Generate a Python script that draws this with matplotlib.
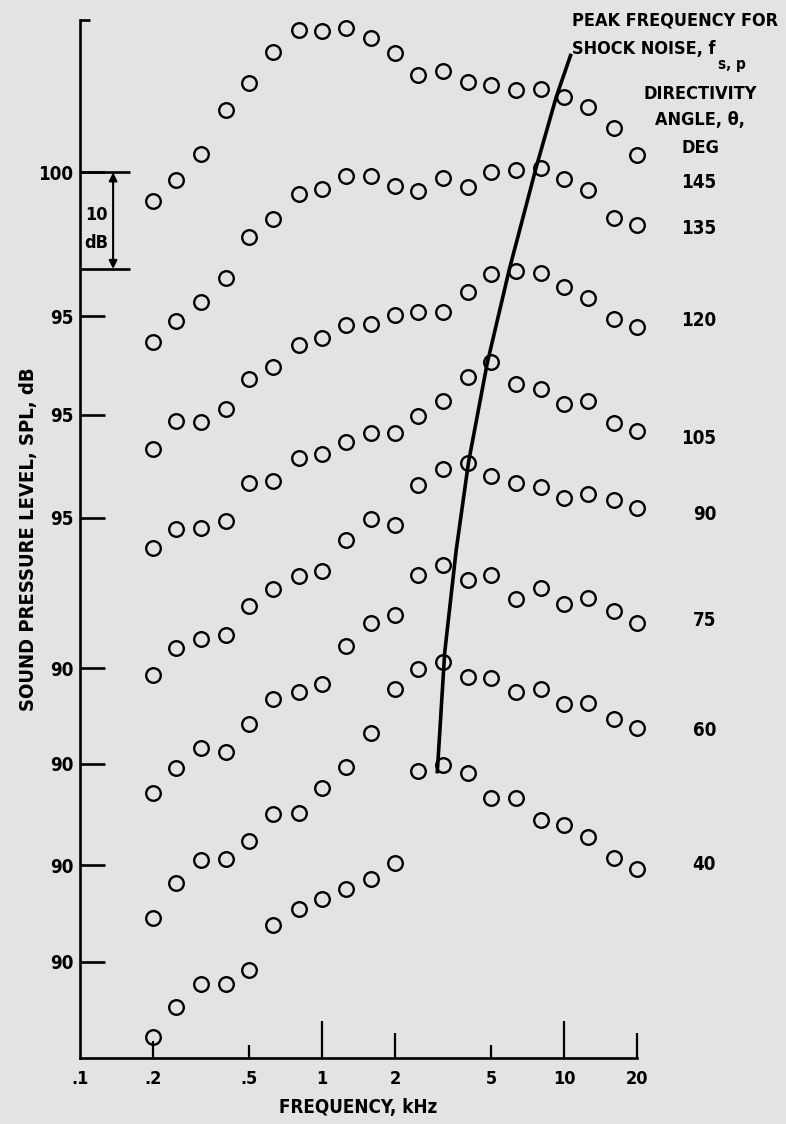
import numpy as np
import matplotlib.pyplot as plt
from matplotlib import font_manager as fm

# one-third octave band centre frequencies, kHz
freq = [0.2, 0.25, 0.315, 0.4, 0.5, 0.63, 0.8, 1.0, 1.25, 1.6, 2.0,
        2.5, 3.15, 4.0, 5.0, 6.3, 8.0, 10.0, 12.5, 16.0, 20.0]

angles = [145, 135, 120, 105, 90, 75, 60, 40]

# SPL, dB, read against each curve's own reference tick
spl_145 = [97.0, 99.2, 101.9, 106.5, 109.3, 112.5, 114.8, 114.7, 115.0, 113.9, 112.4,
           110.1, 110.5, 109.4, 109.1, 108.5, 108.6, 107.8, 106.8, 104.6, 101.8]
spl_135 = [92.3, 94.5, 96.5, 99.0, 103.2, 105.1, 107.7, 108.2, 109.5, 109.5, 108.5,
           108.0, 109.3, 108.4, 109.9, 110.2, 110.4, 109.2, 108.1, 105.2, 104.4]
spl_120 = [91.4, 94.3, 94.2, 95.6, 98.7, 99.9, 102.2, 102.9, 104.3, 104.4, 105.3,
           105.6, 105.6, 107.7, 109.6, 109.9, 109.7, 108.2, 107.1, 104.9, 104.1]
spl_105 = [91.9, 93.8, 93.9, 94.7, 98.6, 98.8, 101.2, 101.6, 102.9, 103.8, 103.8,
           105.5, 107.1, 109.6, 111.1, 108.9, 108.3, 106.8, 107.1, 104.8, 104.0]
spl_90 = [89.3, 92.1, 93.0, 93.5, 96.5, 98.2, 99.6, 100.1, 103.3, 105.5, 104.8,
          109.0, 110.7, 111.3, 109.9, 109.2, 108.8, 107.7, 108.1, 107.4, 106.6]
spl_75 = [87.0, 89.6, 91.6, 91.2, 94.1, 96.7, 97.4, 98.3, 102.2, 104.6, 105.4,
          109.6, 110.6, 109.0, 109.6, 107.1, 108.2, 106.6, 107.2, 105.8, 104.6]
spl_60 = [84.5, 88.1, 90.5, 90.6, 92.5, 95.3, 95.4, 98.0, 100.2, 103.7, 108.3,
          110.3, 111.0, 109.5, 109.4, 107.9, 108.3, 106.7, 106.8, 105.1, 104.2]
spl_40 = [82.2, 85.3, 87.7, 87.7, 89.1, 93.8, 95.4, 96.5, 97.5, 98.6, 100.2,
          109.7, 110.4, 109.5, 107.0, 107.0, 104.7, 104.2, 102.9, 100.7, 99.6]
curves = [spl_145, spl_135, spl_120, spl_105, spl_90, spl_75, spl_60, spl_40]

# reference tick value of each curve and how far it is moved down the page, dB
ref_db = [100, 95, 95, 95, 90, 90, 90, 90]
shift = [-8.2, -18.1, -28.3, -39.0, -49.6, -59.5, -70.0, -80.0]

# faired line of shock noise peak frequency (kHz, page level)
peak_f = [10.69, 9.27, 7.66, 5.93, 4.81, 4.03, 3.58, 3.21, 2.99]
peak_level = [104.1, 99.6, 92.3, 81.7, 72.0, 61.8, 52.6, 42.0, 29.5]

xticks = [0.1, 0.2, 0.5, 1, 2, 5, 10, 20]
xlabels = ['.1', '.2', '.5', '1', '2', '5', '10', '20']
xtick_len = [0, 12, 9.5, 26.5, 18, 9.5, 27, 18]

# narrow bold lettering if we have it
names = {f.name for f in fm.fontManager.ttflist}
FONT = 'Liberation Sans Narrow' if 'Liberation Sans Narrow' in names else 'DejaVu Sans'
plt.rcParams['font.family'] = [FONT, 'DejaVu Sans']
plt.rcParams['font.weight'] = 'bold'
plt.rcParams['font.stretch'] = 'condensed'
plt.rcParams['axes.labelweight'] = 'bold'

W, H = 786, 1124
BG = '#e3e3e3'
fig = plt.figure(figsize=(W / 100, H / 100), dpi=100, facecolor=BG)
ax = fig.add_axes([80 / W, 66 / H, 557 / W, 1038 / H])
ax.set_facecolor(BG)

for spl, s in zip(curves, shift):
    ax.plot(freq, np.array(spl) + s, 'o', ms=10.5, mfc='none', mec='black', mew=1.7, clip_on=False)

ax.plot(peak_f, peak_level, color='black', lw=2.6, solid_capstyle='butt', solid_joinstyle='round')

ax.set_xscale('log')
ax.set_xlim(0.1, 20)
ax.set_ylim(0, 107.6)

for sp in ['top', 'right']:
    ax.spines[sp].set_visible(False)
for sp in ['left', 'bottom']:
    ax.spines[sp].set_linewidth(1.9)

ax.xaxis.set_minor_locator(plt.NullLocator())
ax.set_xticks(xticks)
ax.set_xticklabels(xlabels)
ax.tick_params(axis='x', direction='in', width=1.6, pad=9, labelsize=13)
for t, L in zip(ax.xaxis.get_major_ticks(), xtick_len):
    t.tick1line.set_markersize(L)

yt = [r + s for r, s in zip(ref_db, shift)] + [107.6]
ax.set_yticks(yt)
ax.set_yticklabels([str(r) for r in ref_db] + [''])
ax.tick_params(axis='y', direction='in', length=18, width=1.9, pad=5, labelsize=13.5)
ax.yaxis.get_major_ticks()[-1].tick1line.set_markersize(7)

# 10 dB scale bracket on the 145 deg curve
top, bot = 100 + shift[0], 90 + shift[0]
ax.hlines([top, bot], 0.1, 0.161, color='black', lw=1.9, clip_on=False)
ax.annotate('', xy=(0.137, top), xytext=(0.137, bot),
            arrowprops=dict(arrowstyle='<|-|>', color='black', lw=1.5,
                            mutation_scale=12, shrinkA=0, shrinkB=0))
ax.text(0.1165, top - 4.4, '10', ha='center', va='center', fontsize=13)
ax.text(0.1165, top - 7.3, 'dB', ha='center', va='center', fontsize=13)

ax.set_xlabel('FREQUENCY, kHz', fontsize=13.5, labelpad=7)
ax.set_ylabel('SOUND PRESSURE LEVEL, SPL, dB', fontsize=14.5)
ax.yaxis.set_label_coords(-42 / 557, 0.5)


def px(x, y):
    return x / W, 1 - y / H


fig.text(*px(572, 21), 'PEAK FREQUENCY FOR', ha='left', va='center', fontsize=13)
t = fig.text(*px(572, 49), 'SHOCK NOISE, f', ha='left', va='center', fontsize=13)
ax.annotate('s, p', xy=(1, 0), xycoords=t, xytext=(2, 1), textcoords='offset points',
            ha='left', va='top', fontsize=11, annotation_clip=False)
fig.text(*px(700, 94), 'DIRECTIVITY', ha='center', va='center', fontsize=13)
fig.text(*px(700, 120), 'ANGLE, θ,', ha='center', va='center', fontsize=13)
fig.text(*px(700, 148), 'DEG', ha='center', va='center', fontsize=13)

label_y = [183, 229, 320, 438, 514, 621, 730, 864]
for a, y in zip(angles, label_y):
    fig.text(*px(716, y), str(a), ha='right', va='center', fontsize=13.5)

fig.savefig('out.png', dpi=100, facecolor=BG)
